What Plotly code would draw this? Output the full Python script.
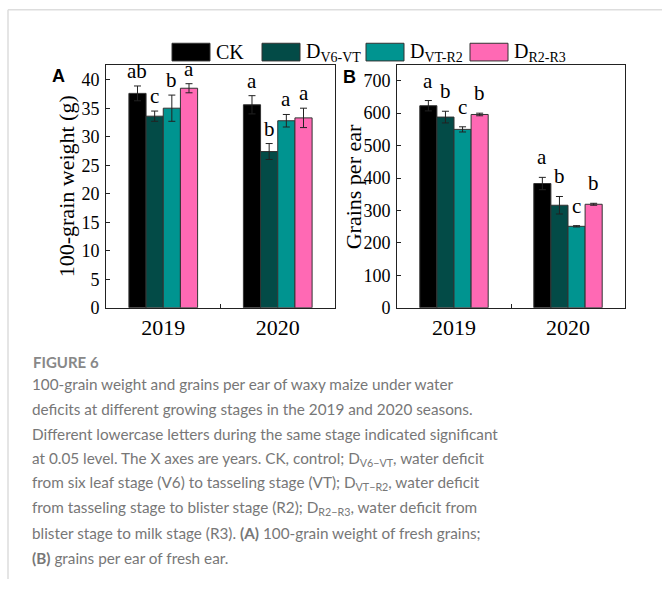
import plotly.graph_objects as go

W, H = 662, 589

years = ["2019", "2020"]
series = ["CK", "D<sub>V6-VT</sub>", "D<sub>VT-R2</sub>", "D<sub>R2-R3</sub>"]
colors = ["#000000", "#034b47", "#009490", "#ff69b4"]

# Panel A: 100-grain weight (g)
gw_ck = [37.6, 35.6]
gw_v6 = [33.6, 27.4]
gw_vt = [35.0, 32.8]
gw_r2 = [38.5, 33.3]
gw_ck_err = [1.3, 1.6]
gw_v6_err = [0.9, 1.4]
gw_vt_err = [2.3, 1.1]
gw_r2_err = [0.8, 1.7]
gw_ck_let = ["ab", "a"]
gw_v6_let = ["c", "b"]
gw_vt_let = ["b", "a"]
gw_r2_let = ["a", "a"]

# Panel B: grains per ear
ge_ck = [623, 383]
ge_v6 = [588, 316]
ge_vt = [550, 251]
ge_r2 = [596, 319]
ge_ck_err = [16, 19]
ge_v6_err = [18, 27]
ge_vt_err = [8, 2]
ge_r2_err = [4, 3]
ge_ck_let = ["a", "a"]
ge_v6_let = ["b", "b"]
ge_vt_let = ["c", "c"]
ge_r2_let = ["b", "b"]

yticks_a = [0, 5, 10, 15, 20, 25, 30, 35, 40]
yticks_b = [0, 100, 200, 300, 400, 500, 600, 700]

caption_lines = [
    "100-grain weight and grains per ear of waxy maize under water",
    "deficits at different growing stages in the 2019 and 2020 seasons.",
    "Different lowercase letters during the same stage indicated significant",
    "at 0.05 level. The X axes are years. CK, control; D<sub>V6\u2212VT</sub>, water deficit",
    "from six leaf stage (V6) to tasseling stage (VT); D<sub>VT\u2212R2</sub>, water deficit",
    "from tasseling stage to blister stage (R2); D<sub>R2\u2212R3</sub>, water deficit from",
    "blister stage to milk stage (R3). <b>(A)</b> 100-grain weight of fresh grains;",
    "<b>(B)</b> grains per ear of fresh ear.",
]

SERIF = "Liberation Serif"
SANS = "Liberation Sans"
CAP_FONT = "Lato"

def px(x):
    return x / W

def py(y):
    return 1 - y / H

fig = go.Figure()
xpos = [0, 1]
bargap = 0.4
bw = (1 - bargap) / 4

panels = [
    ("x", "y", [gw_ck, gw_v6, gw_vt, gw_r2], [gw_ck_err, gw_v6_err, gw_vt_err, gw_r2_err],
     [gw_ck_let, gw_v6_let, gw_vt_let, gw_r2_let], 1),
    ("x2", "y2", [ge_ck, ge_v6, ge_vt, ge_r2], [ge_ck_err, ge_v6_err, ge_vt_err, ge_r2_err],
     [ge_ck_let, ge_v6_let, ge_vt_let, ge_r2_let], 6),
]

annotations = []
for xa, ya, vals, errs, lets, ysh in panels:
    for i in range(4):
        fig.add_trace(go.Bar(
            x=xpos, y=vals[i], name=series[i], xaxis=xa, yaxis=ya,
            marker=dict(color=colors[i], line=dict(color="#333333", width=1)),
            error_y=dict(type="data", array=errs[i], visible=True, color="#222222",
                         thickness=1, width=3.5),
            showlegend=False,
        ))
        for j in range(2):
            annotations.append(dict(
                x=xpos[j] + (i - 1.5) * bw, y=vals[i][j] + errs[i][j],
                xref=xa, yref=ya, text=lets[i][j], showarrow=False,
                xanchor="center", yanchor="bottom", yshift=ysh,
                font=dict(family=SERIF, size=21, color="#000000"),
            ))

axis_common = dict(showline=True, mirror=True, linecolor="#222222", linewidth=1,
                   showgrid=False, zeroline=False)

xa_dom = [px(106), px(335)]
xb_dom = [px(397), px(625)]
y_dom = [py(313), py(66)]

fig.update_layout(
    width=W, height=H, margin=dict(l=0, r=0, t=0, b=0),
    paper_bgcolor="white", plot_bgcolor="white",
    barmode="group", bargap=bargap, bargroupgap=0,
    xaxis=dict(domain=xa_dom, anchor="y", range=[-0.5, 1.5], tickvals=xpos, ticktext=years,
               ticks="", tickfont=dict(family=SERIF, size=22, color="#000"),
               minor=dict(tickvals=[0.5], ticks="inside", ticklen=4, tickcolor="#222"),
               **axis_common),
    yaxis=dict(domain=y_dom, anchor="x", range=[0, 42.6], tickvals=yticks_a,
               ticks="inside", ticklen=4, tickcolor="#222", ticklabelstandoff=2,
               tickfont=dict(family=SERIF, size=18, color="#000"), **axis_common),
    xaxis2=dict(domain=xb_dom, anchor="y2", range=[-0.5, 1.5], tickvals=xpos, ticktext=years,
                ticks="", tickfont=dict(family=SERIF, size=22, color="#000"),
                minor=dict(tickvals=[0.5], ticks="inside", ticklen=4, tickcolor="#222"),
                **axis_common),
    yaxis2=dict(domain=y_dom, anchor="x2", range=[0, 749], tickvals=yticks_b,
                ticks="inside", ticklen=4, tickcolor="#222", ticklabelstandoff=2,
                tickfont=dict(family=SERIF, size=18, color="#000"), **axis_common),
)

# axis titles
annotations.append(dict(x=px(66), y=(y_dom[0] + y_dom[1]) / 2, xref="paper", yref="paper",
                        text="100-grain weight (g)", textangle=-90, showarrow=False,
                        xanchor="center", yanchor="middle",
                        font=dict(family=SERIF, size=22, color="#000")))
annotations.append(dict(x=px(353), y=(y_dom[0] + y_dom[1]) / 2, xref="paper", yref="paper",
                        text="Grains per ear", textangle=-90, showarrow=False,
                        xanchor="center", yanchor="middle",
                        font=dict(family=SERIF, size=22, color="#000")))
# panel letters
annotations.append(dict(x=px(59), y=py(77), xref="paper", yref="paper", text="<b>A</b>",
                        showarrow=False, xanchor="center", yanchor="middle",
                        font=dict(family=SANS, size=18, color="#000")))
annotations.append(dict(x=px(349), y=py(78), xref="paper", yref="paper", text="<b>B</b>",
                        showarrow=False, xanchor="center", yanchor="middle",
                        font=dict(family=SANS, size=18, color="#000")))

# legend swatches
shapes = []
leg_x = [172, 262, 366, 470]
for i in range(4):
    shapes.append(dict(type="rect", xref="paper", yref="paper",
                       x0=px(leg_x[i]), x1=px(leg_x[i] + 38), y0=py(62), y1=py(44),
                       fillcolor=colors[i], line=dict(color="#333333", width=1)))
    annotations.append(dict(x=px(leg_x[i] + 42), y=py(53), xref="paper", yref="paper",
                            text=series[i], showarrow=False, xanchor="left", yanchor="middle",
                            font=dict(family=SERIF, size=20, color="#000")))

# outer frame
shapes.append(dict(type="line", xref="paper", yref="paper", x0=px(8), x1=1, y0=py(10), y1=py(10),
                   line=dict(color="#dddddd", width=1.5)))
shapes.append(dict(type="line", xref="paper", yref="paper", x0=px(8), x1=px(8), y0=py(10), y1=0,
                   line=dict(color="#dddddd", width=1.5)))

# caption
annotations.append(dict(x=px(31), y=py(368), xref="paper", yref="paper", text="<b>FIGURE 6</b>",
                        showarrow=False, xanchor="left", yanchor="middle",
                        font=dict(family=CAP_FONT, size=15, color="#888888")))
for k, line in enumerate(caption_lines):
    annotations.append(dict(x=px(30), y=py(391 + k * 25.2), xref="paper", yref="paper",
                            text=line, showarrow=False, xanchor="left", yanchor="middle",
                            font=dict(family=CAP_FONT, size=15.3, color="#777777")))

fig.update_layout(annotations=annotations, shapes=shapes)
fig.write_html("out.html", config={"displayModeBar": False},
               post_script="document.body.style.margin='0';")
